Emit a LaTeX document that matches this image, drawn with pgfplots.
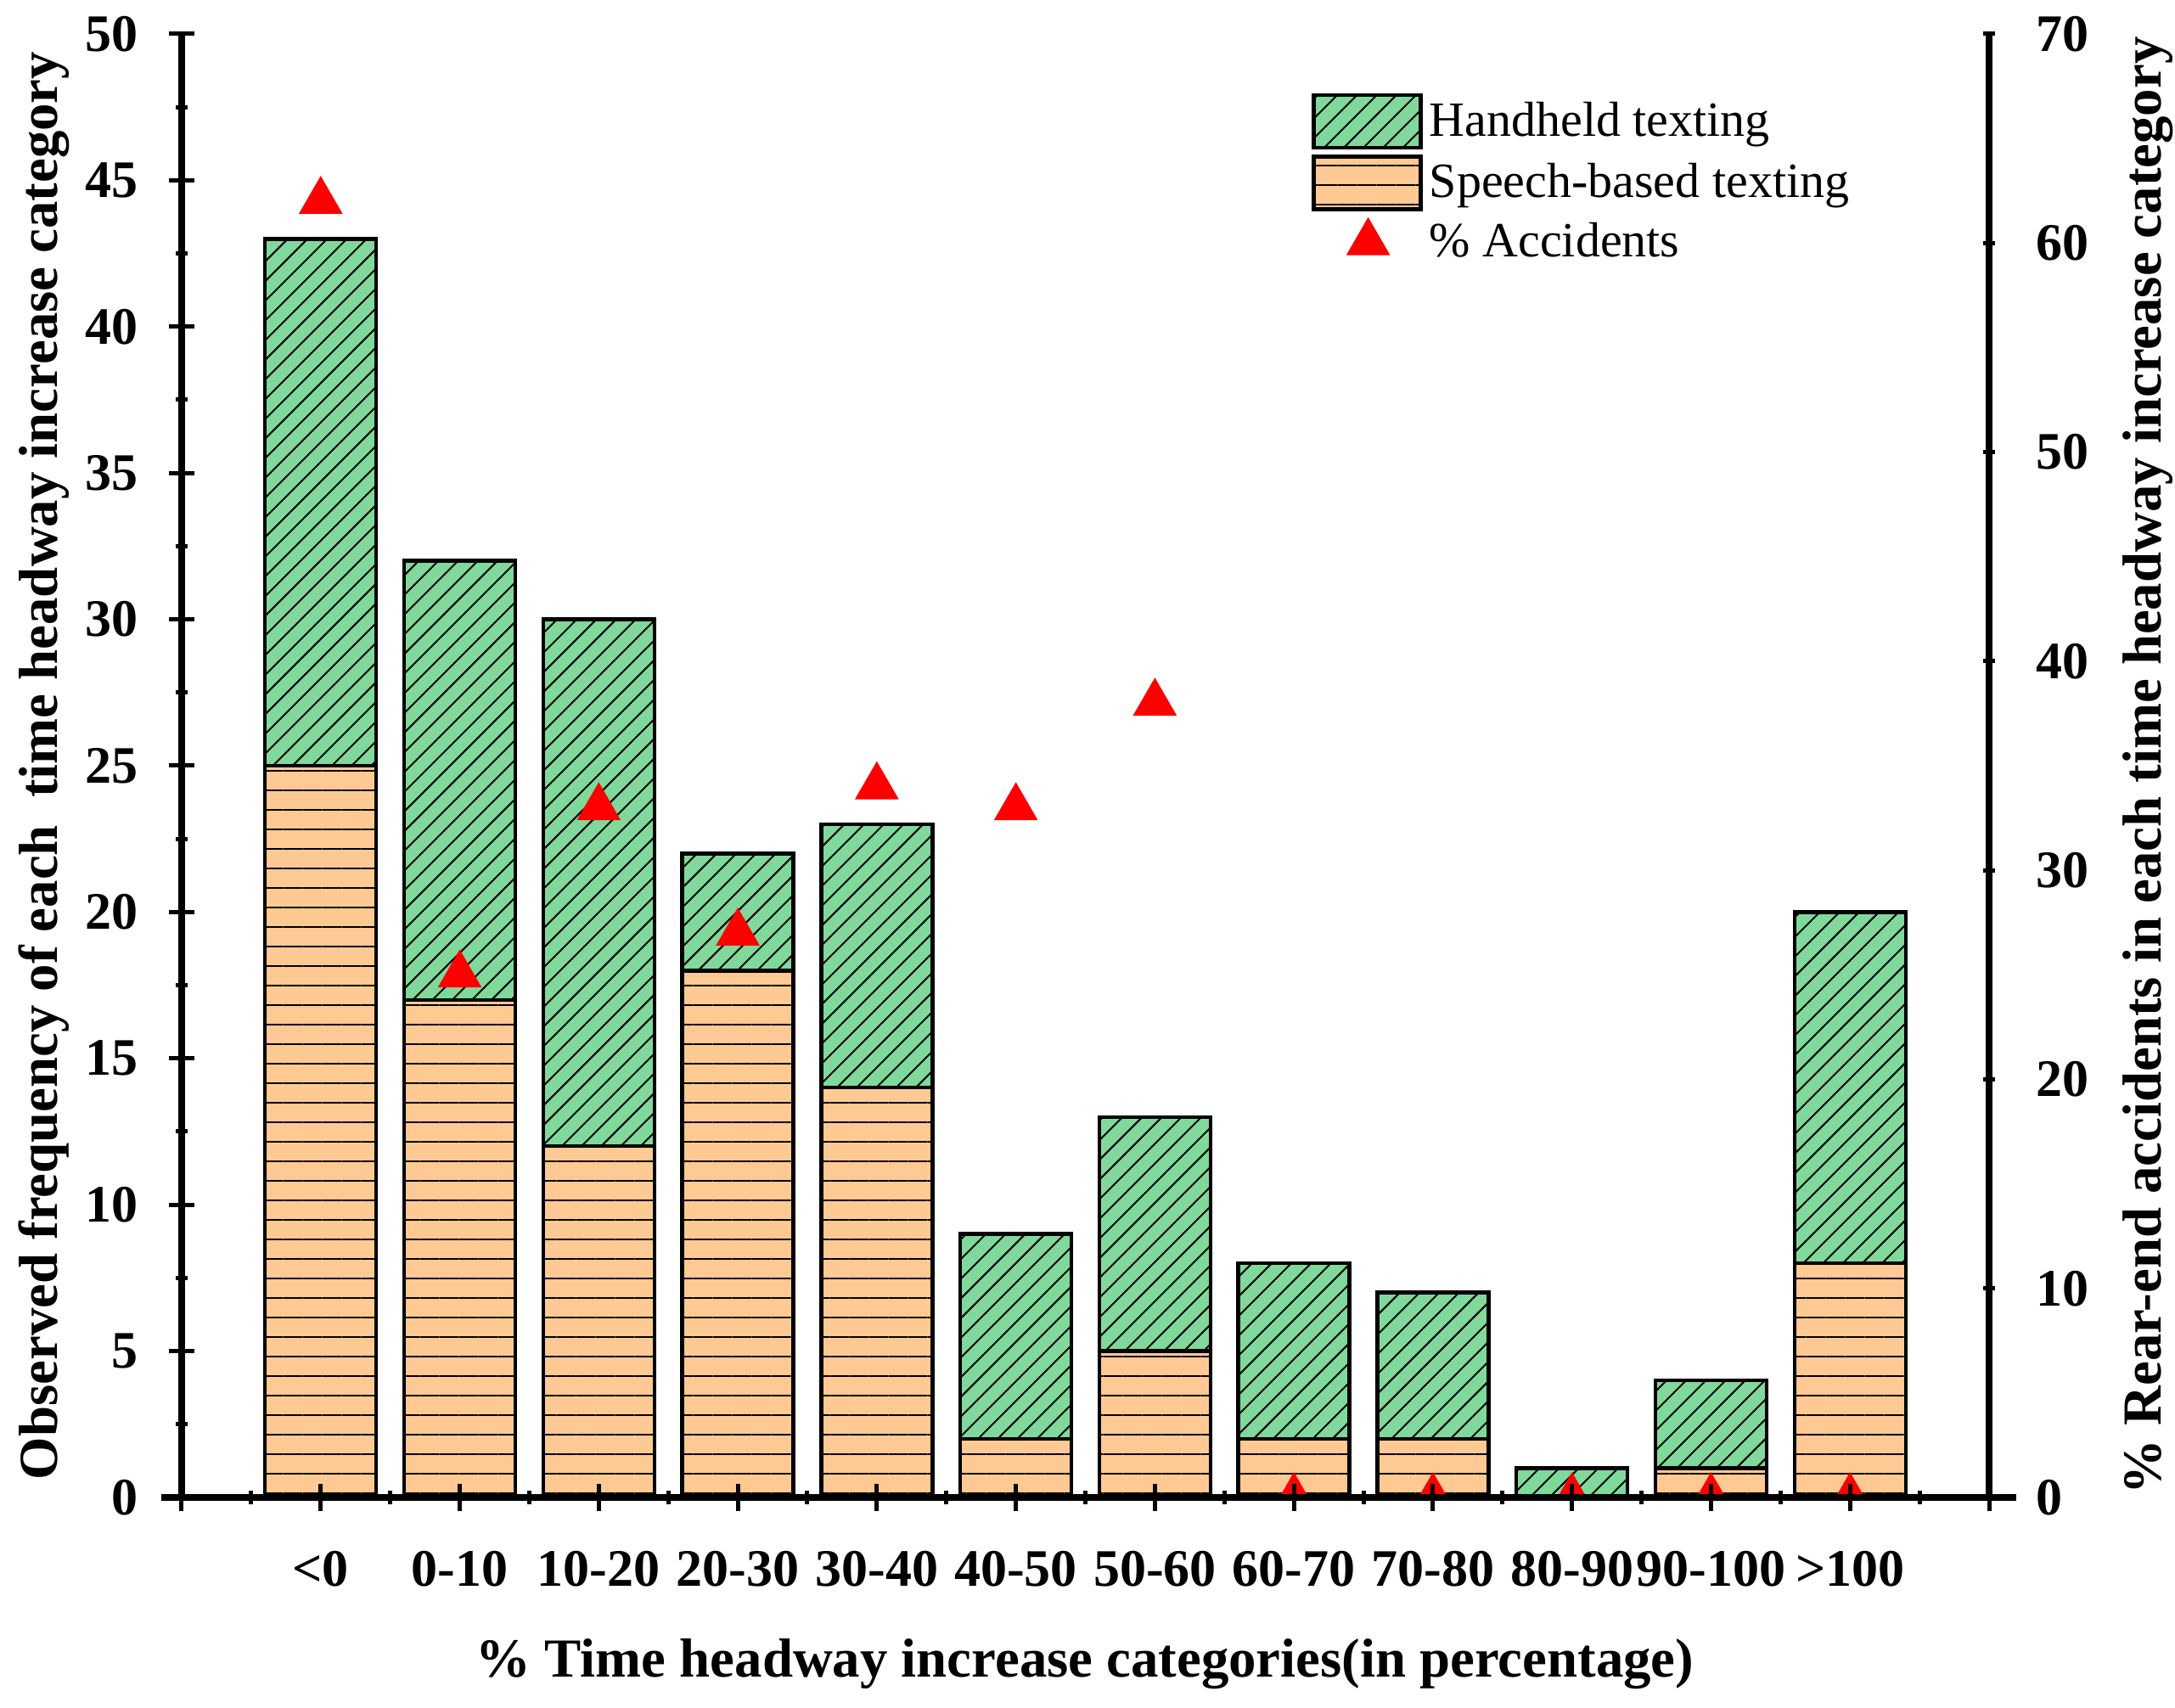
\documentclass[border=0pt]{standalone}
\usepackage{fontspec}
\setmainfont{Liberation Serif}
\usepackage{pgfplots}
\usepackage{pgfplotstable}
\pgfplotsset{compat=1.18}
\usetikzlibrary{patterns.meta}
\definecolor{hhgreen}{RGB}{128,217,155}
\definecolor{peach}{RGB}{255,201,148}

\pgfplotstableread{
x speech hand acc
0 25 18 62
1 17 15 25
2 12 18 33
3 18 4 27
4 14 9 34
5 2 7 33
6 5 8 38
7 2 6 0
8 2 5 0
9 0 1 0
10 1 3 0
11 8 12 0
}\datatable

\pgfplotsset{
 trilegend/.style={legend image code/.code={\path[draw=none,fill=none] (0pt,-7.75pt) rectangle (27.5pt,7.75pt); \draw[##1] plot coordinates {(16pt,0pt)};}},
 barlegend/.style={legend image code/.code={\draw[##1] (0pt,-7.75pt) rectangle (31.5pt,7.75pt);}},
 noarrows/.style={
   every outer x axis line/.append style={-},
   every outer y axis line/.append style={-},
   every inner x axis line/.append style={-},
   every inner y axis line/.append style={-},
   x axis line style={-}, y axis line style={-}},
 common/.style={
   at={(0,0)}, anchor=south west, scale only axis,
   width=532.25pt, height=431pt,
   xmin=-1, xmax=12,
   axis line style={line width=1.9pt},
   tick style={line width=1.25pt, black},
   tick align=outside,
   ticklabel style={font=\fontsize{15.5}{18}\selectfont\bfseries},
   /pgf/number format/assume math mode=true,
 }
}

\begin{document}
\begin{tikzpicture}
\begin{axis}[common, ymin=0, ymax=50, axis y line=left, axis x line=none,
 ytick={0,5,...,50}, minor y tick num=1, major tick length=7.5pt, minor tick length=3.3pt,
 yticklabel style={xshift=-5.5pt},
 ybar stacked, bar width=0.8,
 reverse legend,
 legend style={at={(0.625,0.96)}, anchor=north west, draw=none, fill=none,
   font=\fontsize{14.5}{17}\selectfont, row sep=1.5pt, inner sep=0pt, cells={anchor=west}},
 noarrows]
\addlegendimage{only marks, mark=triangle*, red, mark size=7.07pt, trilegend}
\addlegendentry{\% Accidents}
\addplot[fill=peach, draw=black, line width=1.1pt, barlegend,
  postaction={pattern={Lines[angle=0,distance=5.75pt,line width=0.5pt]}}]
  table[x=x,y=speech]{\datatable};
\addlegendentry{Speech-based texting}
\addplot[fill=hhgreen, draw=black, line width=1.1pt, barlegend,
  postaction={pattern={Lines[angle=45,distance=4.1pt,line width=0.5pt]}}]
  table[x=x,y=hand]{\datatable};
\addlegendentry{Handheld texting}
\end{axis}

\begin{axis}[common, ymin=0, ymax=70, axis y line=right, axis x line=none,
 ytick={0,10,...,70}, major tick length=3.3pt, yticklabel style={xshift=8.8pt},
 clip marker paths=true, noarrows]
\addplot[only marks, mark=triangle*, color=red, mark size=7.07pt] table[x=x,y=acc]{\datatable};
\end{axis}

\begin{axis}[common, ymin=0, ymax=50, axis x line=bottom, axis y line=none,
 xtick={-1,0,...,12},
 xticklabels={{},{<0},{0-10},{10-20},{20-30},{30-40},{40-50},{50-60},{60-70},{70-80},{80-90},{90-100},{>100},{}},
 minor xtick={-0.5,0.5,...,11.5},
 major tick length=7.8pt, minor tick length=4pt,
 xticklabel style={yshift=-8.5pt},
 noarrows,
 x axis line style={shorten <=-6pt, shorten >=-8pt}]
\end{axis}

\node[font=\fontsize{16.2}{19}\selectfont\bfseries, rotate=90] at (-40.5pt,215.5pt)
  {Observed frequency of each\ \ time headway increase category};
\node[font=\fontsize{16.2}{19}\selectfont\bfseries, rotate=90] at (579pt,215.5pt)
  {\% Rear-end accidents in each time headway increase category};
\node[font=\fontsize{16.2}{19}\selectfont\bfseries] at (266pt,-49pt)
  {\% Time headway increase categories(in percentage)};

\pgfresetboundingbox
\path[use as bounding box] (-53.5pt,-62pt) rectangle (587pt,441pt);
\end{tikzpicture}
\end{document}
